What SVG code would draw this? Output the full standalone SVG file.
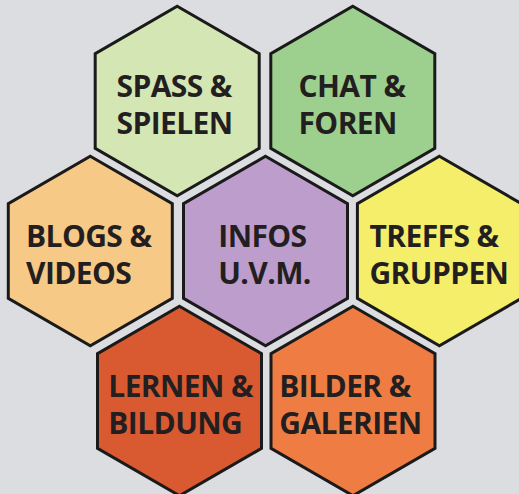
<svg xmlns="http://www.w3.org/2000/svg" width="519" height="494" viewBox="0 0 519 494">
  <style>
    .hex { stroke: #1a1a1a; stroke-width: 3; stroke-linejoin: miter; }
    .lbl { font-family: "Open Sans", "Noto Sans", "Liberation Sans", sans-serif; font-weight: 700; font-size: 30px; letter-spacing: -0.6px; fill: #231f20; }
  </style>
  <defs>
    <polygon id="hexshape" points="0,-94.7 82,-47.35 82,47.35 0,94.7 -82,47.35 -82,-47.35"/>
  </defs>
  <rect x="0" y="0" width="519" height="494" fill="#dcdde1"/>
  <g id="connectors"></g>
  <g id="spass">
    <use href="#hexshape" class="hex" fill="#d5e6b5" transform="translate(177.2,101)"/>
    <text class="lbl" x="116.5" y="96.7">SPASS &amp;</text>
    <text class="lbl" x="116.5" y="134.3">SPIELEN</text>
  </g>
  <g id="chat">
    <use href="#hexshape" class="hex" fill="#9dd08e" transform="translate(352.8,101)"/>
    <text class="lbl" x="298.5" y="96.7">CHAT &amp;</text>
    <text class="lbl" x="298.5" y="134.3">FOREN</text>
  </g>
  <g id="blogs">
    <use href="#hexshape" class="hex" fill="#f7c987" transform="translate(90.3,251)"/>
    <text class="lbl" x="26" y="246.7">BLOGS &amp;</text>
    <text class="lbl" x="26" y="284.3">VIDEOS</text>
  </g>
  <g id="infos">
    <use href="#hexshape" class="hex" fill="#bd9dcc" transform="translate(265.5,251)"/>
    <text class="lbl" x="218.3" y="246.7">INFOS</text>
    <text class="lbl" x="218.3" y="284.3">U.V.M.</text>
  </g>
  <g id="treffs">
    <use href="#hexshape" class="hex" fill="#f4ee6a" transform="translate(439.4,251)"/>
    <text class="lbl" x="369.5" y="246.7">TREFFS &amp;</text>
    <text class="lbl" x="369.5" y="284.3">GRUPPEN</text>
  </g>
  <g id="lernen">
    <use href="#hexshape" class="hex" fill="#d95a30" transform="translate(179.5,401)"/>
    <text class="lbl" x="108.3" y="396.7">LERNEN &amp;</text>
    <text class="lbl" x="108.3" y="434.3">BILDUNG</text>
  </g>
  <g id="bilder">
    <use href="#hexshape" class="hex" fill="#ef7d43" transform="translate(353,401)"/>
    <text class="lbl" x="279.3" y="396.7">BILDER &amp;</text>
    <text class="lbl" x="279.3" y="434.3">GALERIEN</text>
  </g>
</svg>
